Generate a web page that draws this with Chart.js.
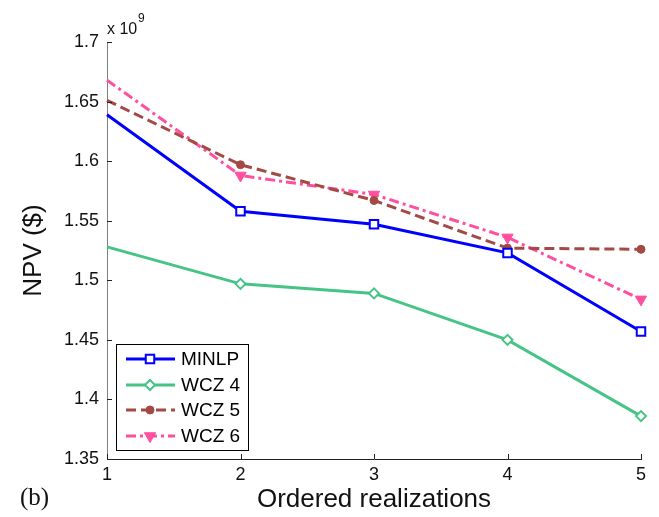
<!DOCTYPE html>
<html>
<head>
<meta charset="utf-8">
<script src="https://cdn.jsdelivr.net/npm/chart.js@4/dist/chart.umd.min.js"></script>
<style>
  html, body { margin: 0; padding: 0; background: #fff; }
  #wrap { width: 659px; height: 517px; }
</style>
</head>
<body>
<div id="wrap"><canvas id="npv" width="659" height="517"></canvas></div>
<script>
// ordered realizations on x, NPV in units of 1e9 $
const realizations = [1, 2, 3, 4, 5];
const minlp = [1.639, 1.558, 1.547, 1.523, 1.457];
const wcz4 = [1.528, 1.497, 1.489, 1.450, 1.386];
const wcz5 = [1.651, 1.597, 1.567, 1.527, 1.526];
const wcz6 = [1.668, 1.588, 1.572, 1.536, 1.484];
const yTicks = [1.35, 1.4, 1.45, 1.5, 1.55, 1.6, 1.65, 1.7];

const FONT = '"Liberation Sans", Arial, Helvetica, sans-serif';

function pts(values) {
  return realizations.map((x, i) => ({ x, y: values[i] }));
}

// no marker on the first realization
function markerRadii(r) {
  return realizations.map((x, i) => (i === 0 ? 0 : r));
}

// inward ticks, exponent label, panel tag and boxed legend
const decorations = {
  id: 'decorations',
  afterDraw(chart) {
    const { ctx, chartArea: a, scales } = chart;
    const x = scales.x, y = scales.y;
    ctx.save();

    // inward tick marks
    ctx.lineWidth = 1;
    ctx.strokeStyle = '#222';
    realizations.forEach(v => {
      const px = Math.round(x.getPixelForValue(v)) + 0.5;
      ctx.beginPath();
      ctx.moveTo(px, a.bottom);
      ctx.lineTo(px, a.bottom - 5);
      ctx.stroke();
    });
    yTicks.forEach(v => {
      const py = Math.round(y.getPixelForValue(v)) + 0.5;
      ctx.beginPath();
      ctx.moveTo(a.left, py);
      ctx.lineTo(a.left + 5, py);
      ctx.stroke();
    });

    // x 10^9
    ctx.fillStyle = '#111';
    ctx.textBaseline = 'alphabetic';
    ctx.textAlign = 'left';
    ctx.font = '16px ' + FONT;
    ctx.fillText('x 10', a.left, 34);
    ctx.font = '12px ' + FONT;
    ctx.fillText('9', a.left + 31, 22);

    // panel tag
    ctx.font = '25px "Liberation Serif", "Times New Roman", serif';
    ctx.fillText('(b)', 20, 505);

    // legend box
    const box = { l: 116.5, t: 344.5, w: 132, h: 106 };
    ctx.fillStyle = '#fff';
    ctx.fillRect(box.l, box.t, box.w, box.h);
    ctx.strokeStyle = '#000';
    ctx.lineWidth = 1;
    ctx.strokeRect(box.l, box.t, box.w, box.h);

    const rows = [359, 385, 410, 436];
    chart.data.datasets.forEach((ds, i) => {
      const cy = rows[i];
      ctx.save();
      ctx.strokeStyle = ds.borderColor;
      ctx.lineWidth = ds.borderWidth;
      ctx.setLineDash(ds.borderDash || []);
      ctx.beginPath();
      ctx.moveTo(126, cy);
      ctx.lineTo(175, cy);
      ctx.stroke();
      ctx.restore();
      ctx.save();
      ctx.fillStyle = ds.pointBackgroundColor;
      ctx.strokeStyle = ds.pointBorderColor;
      ctx.lineWidth = ds.pointBorderWidth;
      Chart.helpers.drawPoint(ctx, {
        pointStyle: ds.pointStyle,
        radius: ds.markerSize,
        rotation: ds.pointRotation || 0,
        borderWidth: ds.pointBorderWidth
      }, 150, cy);
      ctx.restore();
      ctx.fillStyle = '#000';
      ctx.font = '19px ' + FONT;
      ctx.textBaseline = 'middle';
      ctx.fillText(ds.label, 181, cy + 1);
    });

    ctx.restore();
  }
};

const data = {
  datasets: [
    {
      label: 'MINLP',
      data: pts(minlp),
      borderColor: '#0000ff',
      borderWidth: 3,
      pointStyle: 'rect',
      markerSize: 6,
      pointRadius: markerRadii(6),
      pointBorderWidth: 2,
      pointBorderColor: '#0000ff',
      pointBackgroundColor: '#ffffff'
    },
    {
      label: 'WCZ 4',
      data: pts(wcz4),
      borderColor: '#45c486',
      borderWidth: 3,
      pointStyle: 'rectRot',
      markerSize: 5,
      pointRadius: markerRadii(5),
      pointBorderWidth: 2,
      pointBorderColor: '#45c486',
      pointBackgroundColor: '#ffffff'
    },
    {
      label: 'WCZ 5',
      data: pts(wcz5),
      borderColor: '#a34a45',
      borderWidth: 3,
      borderDash: [10, 5],
      pointStyle: 'circle',
      markerSize: 4,
      pointRadius: markerRadii(4),
      pointBorderWidth: 1,
      pointBorderColor: '#a34a45',
      pointBackgroundColor: '#a34a45'
    },
    {
      label: 'WCZ 6',
      data: pts(wcz6),
      borderColor: '#ff4f9f',
      borderWidth: 3,
      borderDash: [10, 4, 3, 4],
      pointStyle: 'triangle',
      pointRotation: 180,
      markerSize: 6.5,
      pointRadius: markerRadii(6.5),
      pointBorderWidth: 1,
      pointBorderColor: '#ff4f9f',
      pointBackgroundColor: '#ff4f9f'
    }
  ]
};

const options = {
  responsive: false,
  animation: false,
  clip: false,
  layout: { padding: { top: 42, right: 18, left: 0, bottom: 0 } },
  plugins: {
    legend: { display: false },
    tooltip: { enabled: false }
  },
  elements: { line: { tension: 0 } },
  scales: {
    x: {
      type: 'linear',
      min: 1,
      max: 5,
      afterBuildTicks: s => { s.ticks = realizations.map(v => ({ value: v })); },
      afterFit: s => { s.height = 517 - 459; },
      ticks: {
        color: '#111',
        font: { family: FONT, size: 18 },
        padding: 5,
        maxRotation: 0,
        callback: v => String(v)
      },
      grid: { display: true, drawOnChartArea: false, drawTicks: false },
      border: { display: true, color: '#222', width: 1 },
      title: {
        display: true,
        text: 'Ordered realizations',
        color: '#111',
        font: { family: FONT, size: 26 },
        padding: { top: 0, bottom: 2 }
      }
    },
    y: {
      type: 'linear',
      min: 1.35,
      max: 1.7,
      afterBuildTicks: s => { s.ticks = yTicks.map(v => ({ value: v })); },
      afterFit: s => { s.width = 107; },
      ticks: {
        color: '#111',
        font: { family: FONT, size: 18 },
        padding: 8,
        callback: v => String(+v.toFixed(2))
      },
      grid: { display: true, drawOnChartArea: false, drawTicks: false },
      border: { display: true, color: '#808080', width: 1 },
      title: {
        display: true,
        text: 'NPV ($)',
        color: '#111',
        font: { family: FONT, size: 26 },
        padding: { top: 18, bottom: 0 }
      }
    }
  }
};

new Chart(document.getElementById('npv').getContext('2d'), {
  type: 'line',
  data,
  options,
  plugins: [decorations]
});
</script>
</body>
</html>
